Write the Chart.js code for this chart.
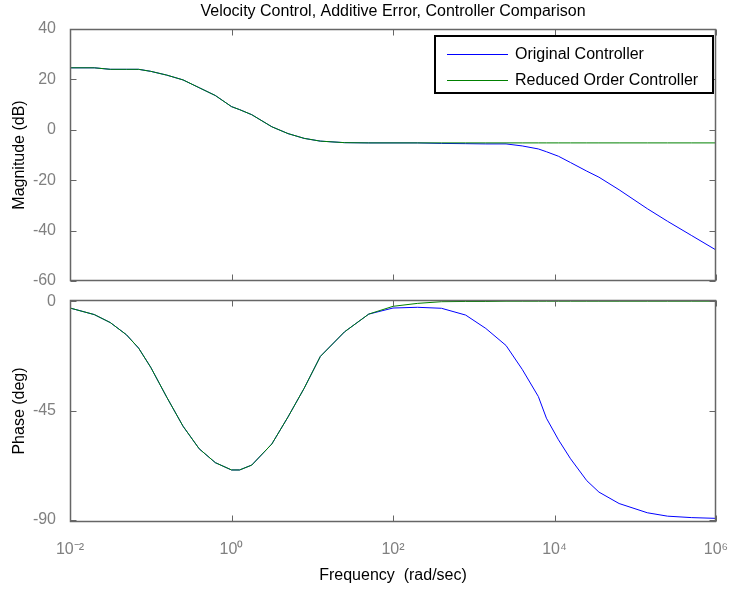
<!DOCTYPE html>
<html>
<head>
<meta charset="utf-8">
<script src="https://cdn.jsdelivr.net/npm/chart.js@4"></script>
<style>
  body { margin: 0; background: #fff; }
  #wrap { position: relative; width: 730px; height: 590px; }
  canvas { position: absolute; left: 0; }
</style>
</head>
<body>
<div id="wrap">
  <canvas id="magChart" width="730" height="290" style="top:0"></canvas>
  <canvas id="phaseChart" width="730" height="300" style="top:290px"></canvas>
</div>
<script>
// frequency grid (rad/sec)
const freq = [0.01, 0.02, 0.0316, 0.05, 0.0708, 0.1, 0.158, 0.251, 0.398, 0.631,
  1, 1.26, 1.78, 3.16, 5.01, 7.94, 12.6, 25.1, 50.1, 100,
  200, 398, 794, 1410, 2510, 3980, 6310, 7940, 11200, 15800,
  25100, 35500, 63100, 141000, 251000, 501000, 1000000];

// magnitude (dB)
const magOriginal = [24.6, 24.6, 24.0, 24.0, 24.0, 23.2, 21.7, 19.8, 16.7, 13.6,
  9.2, 8.0, 6.0, 1.2, -1.5, -3.4, -4.5, -5.1, -5.2, -5.2,
  -5.2, -5.4, -5.5, -5.6, -5.6, -6.4, -7.6, -8.7, -10.5, -13.0,
  -16.4, -18.8, -23.8, -31.3, -36.3, -42.0, -47.7];
const magReduced = [24.6, 24.6, 24.0, 24.0, 24.0, 23.2, 21.7, 19.8, 16.7, 13.6,
  9.2, 8.0, 6.0, 1.2, -1.5, -3.4, -4.5, -5.1, -5.2, -5.2,
  -5.2, -5.2, -5.2, -5.2, -5.2, -5.2, -5.2, -5.2, -5.2, -5.2,
  -5.2, -5.2, -5.2, -5.2, -5.2, -5.2, -5.2];

// phase (deg)
const phaseOriginal = [-2.8, -5.5, -8.8, -13.8, -19.3, -27.2, -39.5, -51.4, -60.7, -66.4,
  -69.4, -69.4, -67.4, -58.7, -47.6, -35.8, -22.7, -12.6, -5.3, -2.8,
  -2.5, -2.9, -5.7, -11.2, -18.2, -28.0, -39.2, -48.1, -57.0, -64.8,
  -73.8, -78.5, -83.2, -87.0, -88.4, -89.0, -89.3];
const phaseReduced = [-2.8, -5.5, -8.8, -13.8, -19.3, -27.2, -39.5, -51.4, -60.7, -66.4,
  -69.4, -69.4, -67.4, -58.7, -47.6, -35.8, -22.7, -12.6, -5.3, -2.1,
  -0.9, -0.2, -0.1, -0.1, 0, 0, 0, 0, 0, 0,
  0, 0, 0, 0, 0, 0, 0];

const freqTicks = [0.01, 1, 100, 10000, 1000000];
const freqTickLabels = ['10⁻²', '10⁰', '10²', '10⁴', '10⁶'];
const magTicks = [-60, -40, -20, 0, 20, 40];
const phaseTicks = [-90, -45, 0];

const seriesNames = ['Original Controller', 'Reduced Order Controller'];

Chart.defaults.font.family = 'Arial, "Liberation Sans", Helvetica, sans-serif';
Chart.defaults.font.size = 16;
Chart.defaults.color = '#000';

const pts = (ys) => freq.map((f, i) => ({x: f, y: ys[i]}));

// MATLAB style box with inward tick marks
const matlabAxes = {
  id: 'matlabAxes',
  afterDatasetsDraw(chart) {
    const {ctx, chartArea: a, scales} = chart;
    const L = Math.round(a.left) + 0.5, R = Math.round(a.right) - 0.5;
    const T = Math.round(a.top) + 0.5, B = Math.round(a.bottom) - 0.5;
    ctx.save();
    ctx.strokeStyle = '#666';
    ctx.lineWidth = 1;
    ctx.beginPath();
    scales.x.ticks.forEach(t => {
      const px = Math.round(scales.x.getPixelForValue(t.value)) + 0.5;
      ctx.moveTo(px, T); ctx.lineTo(px, T + 6);
      ctx.moveTo(px, B); ctx.lineTo(px, B - 6);
    });
    scales.y.ticks.forEach(t => {
      const py = Math.round(scales.y.getPixelForValue(t.value)) + 0.5;
      ctx.moveTo(L, py); ctx.lineTo(L + 6, py);
      ctx.moveTo(R, py); ctx.lineTo(R - 6, py);
    });
    ctx.stroke();
    ctx.lineWidth = 1.5;
    ctx.strokeRect(L, T, R - L, B - T);
    ctx.restore();
  }
};

// boxed legend inside the magnitude axes
const boxLegend = {
  id: 'boxLegend',
  afterDraw(chart) {
    const ctx = chart.ctx;
    const x0 = 435, y0 = 36, w = 278, h = 57;
    ctx.save();
    ctx.fillStyle = '#fff';
    ctx.fillRect(x0, y0, w, h);
    ctx.strokeStyle = '#000';
    ctx.lineWidth = 2;
    ctx.strokeRect(x0, y0, w, h);
    ctx.font = '16px Arial, "Liberation Sans", sans-serif';
    ctx.textBaseline = 'middle';
    chart.data.datasets.forEach((ds, i) => {
      const y = 54 + i * 26 + 0.5;
      ctx.strokeStyle = ds.borderColor;
      ctx.lineWidth = 1;
      ctx.beginPath();
      ctx.moveTo(447, y); ctx.lineTo(508, y);
      ctx.stroke();
      ctx.fillStyle = '#000';
      ctx.fillText(ds.label, 515, y);
    });
    ctx.restore();
  }
};

function freqAxis(showLabels, height) {
  return {
    type: 'logarithmic',
    min: 0.01,
    max: 1000000,
    grid: {display: false},
    border: {display: false},
    afterBuildTicks: s => { s.ticks = freqTicks.map(v => ({value: v})); },
    afterFit: s => { s.height = height; s.paddingLeft = 0; s.paddingRight = 0; },
    ticks: {
      display: showLabels,
      color: '#808080',
      padding: 10,
      maxRotation: 0,
      autoSkip: false,
      callback: (v, i) => freqTickLabels[i]
    },
    title: {
      display: showLabels,
      text: 'Frequency  (rad/sec)',
      color: '#000',
      padding: {top: 0, bottom: 5}
    }
  };
}

function valueAxis(min, max, tickList, label) {
  return {
    min: min,
    max: max,
    grid: {display: false},
    border: {display: false},
    afterBuildTicks: s => { s.ticks = tickList.map(v => ({value: v})); },
    afterFit: s => { s.width = 70; s.paddingTop = 0; s.paddingBottom = 0; },
    ticks: {color: '#808080', padding: 6},
    title: {display: true, text: label, color: '#000', padding: {top: 10, bottom: 0}}
  };
}

const common = {
  responsive: false,
  animation: false,
  events: [],
  elements: {point: {radius: 0}, line: {tension: 0, borderWidth: 1}},
  plugins: {legend: {display: false}, tooltip: {enabled: false}}
};

new Chart(document.getElementById('magChart'), {
  type: 'line',
  data: {
    datasets: [
      {label: seriesNames[0], data: pts(magOriginal), borderColor: '#0000ff', order: 1},
      {label: seriesNames[1], data: pts(magReduced), borderColor: '#008000', order: 0}
    ]
  },
  options: {
    ...common,
    layout: {padding: {top: 0, right: 14, left: 0, bottom: 0}},
    plugins: {
      ...common.plugins,
      title: {
        display: true,
        fullSize: false,
        text: 'Velocity Control, Additive Error, Controller Comparison',
        color: '#000',
        font: {size: 16, weight: 'normal'},
        padding: {top: 2, bottom: 7.8}
      }
    },
    scales: {
      x: freqAxis(false, 9),
      y: valueAxis(-60, 40, magTicks, 'Magnitude (dB)')
    }
  },
  plugins: [matlabAxes, boxLegend]
});

new Chart(document.getElementById('phaseChart'), {
  type: 'line',
  data: {
    datasets: [
      {label: seriesNames[0], data: pts(phaseOriginal), borderColor: '#0000ff', order: 1},
      {label: seriesNames[1], data: pts(phaseReduced), borderColor: '#008000', order: 0}
    ]
  },
  options: {
    ...common,
    layout: {padding: {top: 10, right: 14, left: 0, bottom: 0}},
    scales: {
      x: freqAxis(true, 68),
      y: valueAxis(-90.8, 0.5, phaseTicks, 'Phase (deg)')
    }
  },
  plugins: [matlabAxes]
});
</script>
</body>
</html>
